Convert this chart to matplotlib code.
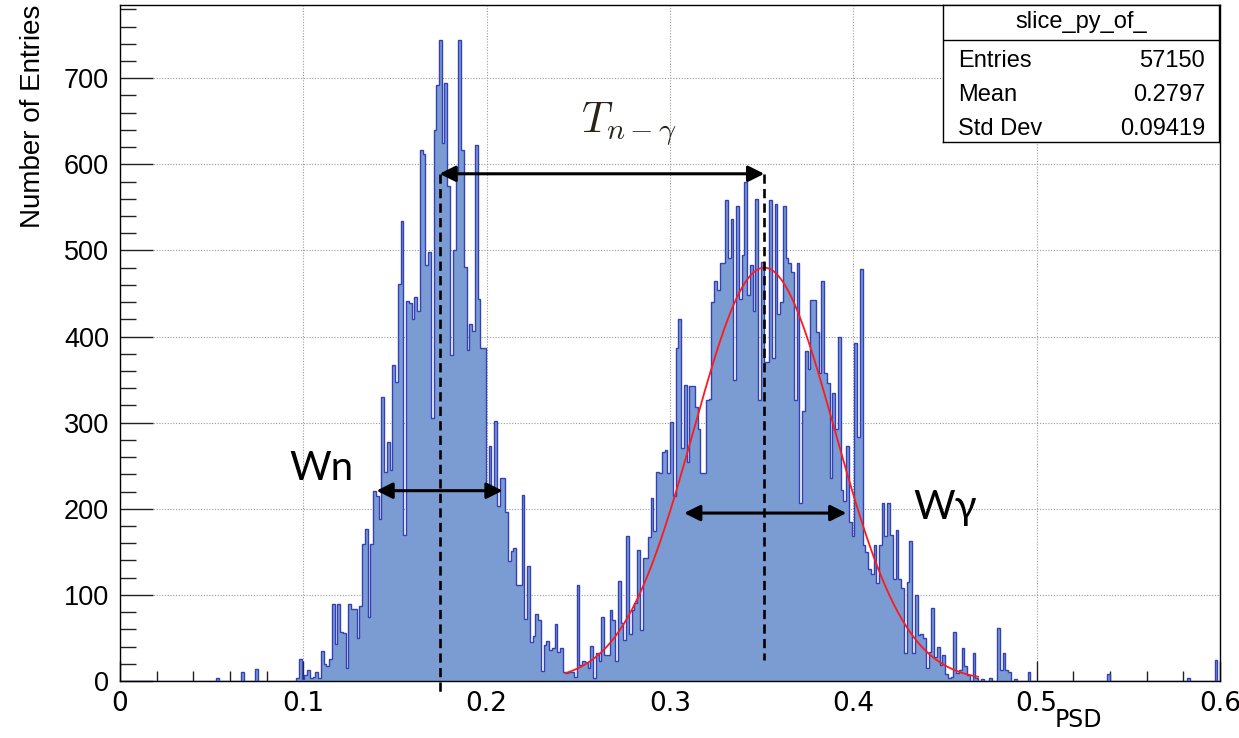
import numpy as np
import matplotlib
matplotlib.use("Agg")
import matplotlib.pyplot as plt
from matplotlib.ticker import MultipleLocator

# ---- histogram definition: 400 bins on [0, 0.6] ----
n_bins = 400
x_min, x_max = 0.0, 0.6

# contents of bins 60..330 (neutron peak, valley, gamma peak, tail)
first_bin = 60
counts_main = [
    0, 0, 0, 0, 4, 26, 2, 7, 13, 3,                                # 60-69
    5, 10, 4, 35, 20, 17, 25, 89, 43, 89,                          # 70-79
    57, 56, 15, 89, 84, 84, 50, 87, 159, 176,                      # 80-89
    74, 159, 221, 215, 188, 330, 243, 278, 245, 367,               # 90-99
    347, 461, 534, 169, 441, 439, 420, 446, 430, 617,              # 100-109
    612, 483, 498, 305, 640, 692, 744, 625, 694, 575,              # 110-119
    379, 501, 589, 744, 617, 481, 384, 414, 407, 622,              # 120-129
    444, 387, 387, 221, 273, 225, 302, 203, 236, 236,              # 130-139
    196, 139, 151, 154, 112, 112, 216, 72, 134, 45,                # 140-149
    52, 78, 71, 12, 42, 46, 36, 38, 66, 34,                        # 150-159
    38, 11, 9, 10, 11, 5, 112, 19, 23, 22,                         # 160-169
    15, 41, 3, 32, 23, 74, 30, 30, 83, 71,                         # 170-179
    23, 116, 67, 48, 168, 54, 83, 90, 152, 59,                     # 180-189
    143, 143, 167, 212, 174, 243, 242, 266, 268, 242,              # 190-199
    301, 215, 387, 420, 271, 344, 254, 342, 342, 318,              # 200-209
    293, 242, 242, 326, 328, 440, 464, 454, 485, 485,              # 210-219
    558, 491, 536, 350, 552, 444, 495, 579, 448, 483,              # 220-229
    430, 560, 326, 487, 371, 371, 558, 375, 554, 426,              # 230-239
    440, 552, 491, 485, 475, 326, 485, 207, 313, 383,              # 240-249
    362, 442, 442, 405, 358, 464, 358, 346, 236, 334,              # 250-259
    293, 399, 222, 209, 273, 185, 168, 393, 283, 479,              # 260-269
    158, 150, 130, 124, 158, 114, 158, 207, 168, 207,              # 270-279
    170, 118, 175, 118, 108, 32, 115, 162, 32, 100,                # 280-289
    53, 54, 50, 15, 34, 85, 28, 39, 19, 30,                        # 290-299
    8, 3, 5, 57, 9, 13, 38, 17, 7, 0,                              # 300-309
    33, 3, 0, 2, 0, 0, 3, 0, 0, 61,                                # 310-319
    13, 32, 13, 11, 0, 2, 0, 0, 0, 0,                              # 320-329
    11,                                                            # 330
]

# isolated entries outside the main block
lone_bins = [35, 44, 49, 359, 388, 398]
lone_counts = [4, 11, 14, 8, 3, 24]

# Gaussian fit of the gamma peak
fit_amp, fit_mean, fit_sigma = 480.0, 0.3514, 0.0385
fit_lo, fit_hi = 0.243, 0.468

# annotation geometry (data units)
t_left, t_right, t_level = 0.1743, 0.3514, 589
wn_left, wn_right, wn_level = 0.1399, 0.2087, 221
wg_left, wg_right, wg_level = 0.3077, 0.3962, 195

stats_title = "slice_py_of_"
stats_rows = [("Entries", "57150"), ("Mean", "0.2797"), ("Std Dev", "0.09419")]

# ---- build arrays ----
edges = np.linspace(x_min, x_max, n_bins + 1)
counts = np.zeros(n_bins)
counts[first_bin:first_bin + len(counts_main)] = counts_main
counts[lone_bins] = lone_counts

W, H = 1239, 738
fig = plt.figure(figsize=(W / 100, H / 100), dpi=100)
ax = fig.add_axes([120 / W, 1 - 681 / H, 1100 / W, 676 / H])

def fpx(x, y):
    return x / W, 1 - y / H

fill_col = "#7b9bd3"
line_col = "#3341b5"

ax.set_axisbelow(True)
ax.grid(True, which="major", linestyle=(0, (1, 1.5)), color="#9a9a9a", lw=0.8)
ax.stairs(counts, edges, fill=True, color=fill_col, zorder=2)
ax.stairs(counts, edges, color=line_col, lw=1.0, zorder=3)

xf = np.linspace(fit_lo, fit_hi, 300)
yf = fit_amp * np.exp(-0.5 * ((xf - fit_mean) / fit_sigma) ** 2)
ax.plot(xf, yf, color="#ff1a1a", lw=1.3, zorder=4)

ax.set_xlim(x_min, x_max)
ax.set_ylim(0, 785)

ax.xaxis.set_major_locator(MultipleLocator(0.1))
ax.xaxis.set_minor_locator(MultipleLocator(0.02))
ax.yaxis.set_major_locator(MultipleLocator(100))
ax.yaxis.set_minor_locator(MultipleLocator(20))
ax.tick_params(axis="both", which="both", direction="in", width=1.0, color="#222222")
ax.tick_params(axis="y", which="major", length=23.5, pad=8)
ax.tick_params(axis="y", which="minor", length=11.8)
ax.tick_params(axis="x", which="major", length=14.4, pad=7)
ax.tick_params(axis="x", which="minor", length=7.2)
for s in ax.spines.values():
    s.set_linewidth(1.0)

ax.set_xticks(np.arange(0, 0.61, 0.1))
ax.set_xticklabels(["0", "0.1", "0.2", "0.3", "0.4", "0.5", "0.6"],
                   family="Liberation Sans Narrow", fontsize=19)
ax.set_yticks(np.arange(0, 701, 100))
ax.set_yticklabels([str(v) for v in range(0, 701, 100)],
                   family="Liberation Sans", fontsize=19.5)

fig.text(*fpx(33, 5), "Number of Entries", rotation=90, ha="center", va="top",
         family="Liberation Sans", fontsize=20)
fig.text(*fpx(1078, 720), "PSD", ha="center", va="center",
         family="Liberation Sans Narrow", fontsize=17)

# dashed markers at the two peak positions
ax.plot([t_left, t_left], [t_level, -13], ls=(0, (3.5, 2)), color="black", lw=1.9,
        clip_on=False, zorder=5)
ax.plot([t_right, t_right], [t_level, 24], ls=(0, (3.5, 2)), color="black", lw=1.9,
        zorder=5)

arrow = dict(arrowstyle="<|-|>", color="black", lw=2.2, mutation_scale=24,
             shrinkA=0, shrinkB=0)
for x0, x1, lev in [(t_left, t_right, t_level), (wn_left, wn_right, wn_level),
                    (wg_left, wg_right, wg_level)]:
    ax.annotate("", xy=(x1, lev), xytext=(x0, lev), arrowprops=arrow, zorder=6)

fig.text(*fpx(321, 468), "Wn", ha="center", va="center",
         family=["Lato", "Noto Sans"], fontsize=29)
fig.text(*fpx(945, 507), "Wγ", ha="center", va="center",
         family=["Lato", "Noto Sans"], fontsize=29)
fig.text(*fpx(629, 124), r"$T_{n-\gamma}$", ha="center", va="center",
         fontsize=31, color="#2a2418", math_fontfamily="cm")

# statistics box
bx0, by0, bx1, by1 = 943, 5, 1219, 142
ax_box = fig.add_axes([bx0 / W, 1 - by1 / H, (bx1 - bx0) / W, (by1 - by0) / H])
ax_box.set_xlim(bx0, bx1)
ax_box.set_ylim(by1, by0)
ax_box.set_xticks([])
ax_box.set_yticks([])
for s in ax_box.spines.values():
    s.set_linewidth(1.0)
ax_box.axhline(40, color="black", lw=1.0)
ax_box.text((bx0 + bx1) / 2, 22, stats_title, ha="center", va="center",
            family="Liberation Sans", fontsize=17)
for k, (name, val) in enumerate(stats_rows):
    yy = 61 + 34 * k
    ax_box.text(958, yy, name, ha="left", va="center", family="Liberation Sans", fontsize=17)
    ax_box.text(1205, yy, val, ha="right", va="center", family="Liberation Sans", fontsize=17)

fig.savefig("out.png", dpi=100)
